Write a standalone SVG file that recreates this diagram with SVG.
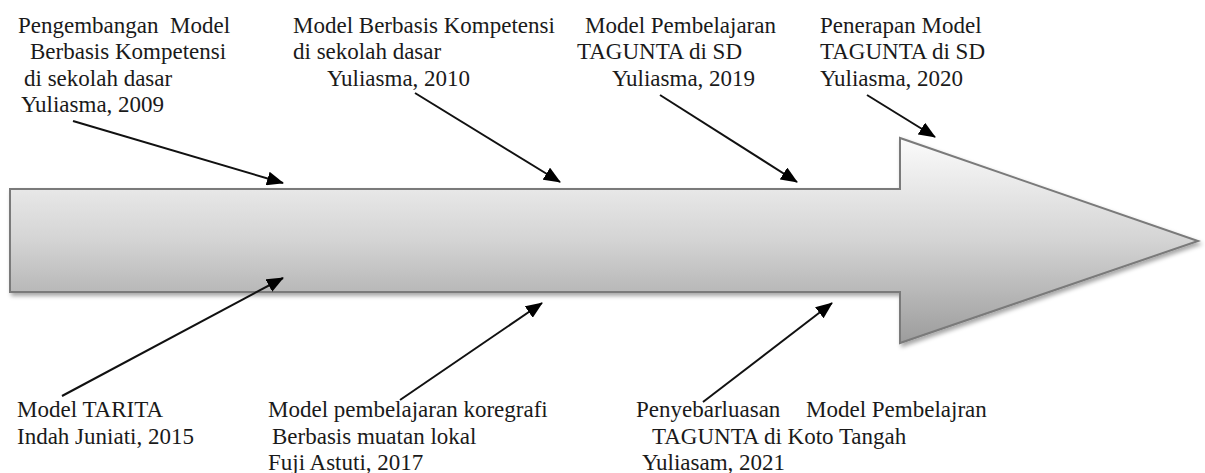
<svg xmlns="http://www.w3.org/2000/svg" width="1205" height="473" viewBox="0 0 1205 473">
<style>
.c{stroke:#111;stroke-width:2;fill:none;marker-end:url(#ah)}
</style>
<defs>
<linearGradient id="g" x1="0" y1="0" x2="0" y2="1">
<stop offset="0" stop-color="#fbfbfb"/>
<stop offset="0.5" stop-color="#d4d4d4"/>
<stop offset="1" stop-color="#9c9c9c"/>
</linearGradient>
<filter id="sh" x="-5%" y="-10%" width="110%" height="125%">
<feDropShadow dx="2" dy="3" stdDeviation="2" flood-color="#000" flood-opacity="0.35"/>
</filter>
<marker id="ah" markerWidth="17" markerHeight="14" refX="16" refY="7" orient="auto" markerUnits="userSpaceOnUse">
<path d="M0,0 L17,7 L0,14 z" fill="#000"/>
</marker>
</defs>
<rect width="1205" height="473" fill="#fff"/>
<g id="big-arrow">
<polygon points="10,189 900,189 900,138 1198,241 900,343 900,292 10,292" fill="url(#g)" stroke="#7a7a7a" stroke-width="2" filter="url(#sh)"/>
</g>
<g id="connectors">
<line class="c" x1="73" y1="121" x2="283" y2="183"/>
<line class="c" x1="415" y1="93" x2="560" y2="182"/>
<line class="c" x1="660" y1="95" x2="797" y2="182"/>
<line class="c" x1="867" y1="95" x2="935" y2="137"/>
<line class="c" x1="62" y1="396" x2="283" y2="278"/>
<line class="c" x1="400" y1="400" x2="542" y2="303"/>
<line class="c" x1="703" y1="402" x2="832" y2="303"/>
</g>
<g id="node-2009">
<text x="18" y="33" font-family="Liberation Serif" font-size="23" fill="#1a1a1a" xml:space="preserve">Pengembangan  Model</text>
<text x="30" y="59" font-family="Liberation Serif" font-size="23" fill="#1a1a1a">Berbasis Kompetensi</text>
<text x="24" y="86" font-family="Liberation Serif" font-size="23" fill="#1a1a1a">di sekolah dasar</text>
<text x="21" y="112" font-family="Liberation Serif" font-size="23" fill="#1a1a1a">Yuliasma, 2009</text>
</g>
<g id="node-2010">
<text x="293" y="33" font-family="Liberation Serif" font-size="23" fill="#1a1a1a">Model Berbasis Kompetensi</text>
<text x="293" y="59" font-family="Liberation Serif" font-size="23" fill="#1a1a1a">di sekolah dasar</text>
<text x="327" y="86" font-family="Liberation Serif" font-size="23" fill="#1a1a1a">Yuliasma, 2010</text>
</g>
<g id="node-2019">
<text x="585" y="33" font-family="Liberation Serif" font-size="23" fill="#1a1a1a">Model Pembelajaran</text>
<text x="577" y="59" font-family="Liberation Serif" font-size="23" fill="#1a1a1a">TAGUNTA di SD</text>
<text x="612" y="86" font-family="Liberation Serif" font-size="23" fill="#1a1a1a">Yuliasma, 2019</text>
</g>
<g id="node-2020">
<text x="820" y="33" font-family="Liberation Serif" font-size="23" fill="#1a1a1a">Penerapan Model</text>
<text x="820" y="59" font-family="Liberation Serif" font-size="23" fill="#1a1a1a">TAGUNTA di SD</text>
<text x="820" y="86" font-family="Liberation Serif" font-size="23" fill="#1a1a1a">Yuliasma, 2020</text>
</g>
<g id="node-2015">
<text x="17" y="417" font-family="Liberation Serif" font-size="23" fill="#1a1a1a">Model TARITA</text>
<text x="17" y="444" font-family="Liberation Serif" font-size="23" fill="#1a1a1a">Indah Juniati, 2015</text>
</g>
<g id="node-2017">
<text x="268" y="417" font-family="Liberation Serif" font-size="23" fill="#1a1a1a">Model pembelajaran koregrafi</text>
<text x="272" y="444" font-family="Liberation Serif" font-size="23" fill="#1a1a1a">Berbasis muatan lokal</text>
<text x="268" y="470" font-family="Liberation Serif" font-size="23" fill="#1a1a1a">Fuji Astuti, 2017</text>
</g>
<g id="node-2021">
<text x="636" y="417" font-family="Liberation Serif" font-size="23" fill="#1a1a1a">Penyebarluasan</text>
<text x="806" y="417" font-family="Liberation Serif" font-size="23" fill="#1a1a1a">Model Pembelajran</text>
<text x="652" y="444" font-family="Liberation Serif" font-size="23" fill="#1a1a1a">TAGUNTA di Koto Tangah</text>
<text x="642" y="470" font-family="Liberation Serif" font-size="23" fill="#1a1a1a">Yuliasam, 2021</text>
</g>
</svg>
